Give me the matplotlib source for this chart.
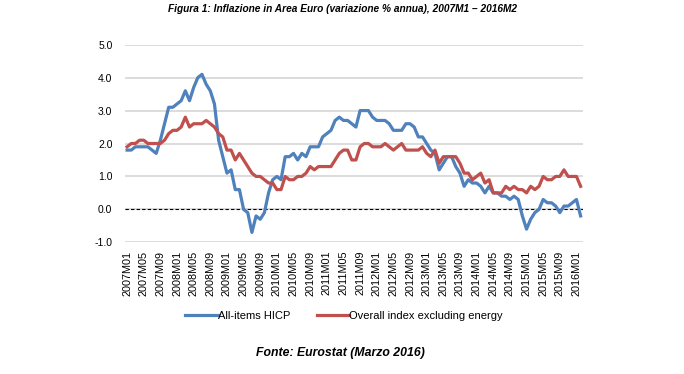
import matplotlib
matplotlib.use('Agg')
import matplotlib.pyplot as plt

plt.rcParams['font.family'] = ['Liberation Sans', 'DejaVu Sans']

months = [f"{y}M{m:02d}" for y in range(2007, 2017) for m in range(1, 13)][:110]

hicp = [1.8, 1.8, 1.9, 1.9, 1.9, 1.9, 1.8, 1.7, 2.1, 2.6, 3.1, 3.1,
        3.2, 3.3, 3.6, 3.3, 3.7, 4.0, 4.1, 3.8, 3.6, 3.2, 2.1, 1.6,
        1.1, 1.2, 0.6, 0.6, 0.0, -0.1, -0.7, -0.2, -0.3, -0.1, 0.5, 0.9,
        1.0, 0.9, 1.6, 1.6, 1.7, 1.5, 1.7, 1.6, 1.9, 1.9, 1.9, 2.2,
        2.3, 2.4, 2.7, 2.8, 2.7, 2.7, 2.6, 2.5, 3.0, 3.0, 3.0, 2.8,
        2.7, 2.7, 2.7, 2.6, 2.4, 2.4, 2.4, 2.6, 2.6, 2.5, 2.2, 2.2,
        2.0, 1.8, 1.7, 1.2, 1.4, 1.6, 1.6, 1.3, 1.1, 0.7, 0.9, 0.8,
        0.8, 0.7, 0.5, 0.7, 0.5, 0.5, 0.4, 0.4, 0.3, 0.4, 0.3, -0.2,
        -0.6, -0.3, -0.1, 0.0, 0.3, 0.2, 0.2, 0.1, -0.1, 0.1, 0.1, 0.2,
        0.3, -0.2]

ex_energy = [1.9, 2.0, 2.0, 2.1, 2.1, 2.0, 2.0, 2.0, 2.0, 2.1, 2.3, 2.4,
             2.4, 2.5, 2.8, 2.5, 2.6, 2.6, 2.6, 2.7, 2.6, 2.5, 2.3, 2.2,
             1.8, 1.8, 1.5, 1.7, 1.5, 1.3, 1.1, 1.0, 1.0, 0.9, 0.8, 0.8,
             0.6, 0.6, 1.0, 0.9, 0.9, 1.0, 1.0, 1.1, 1.3, 1.2, 1.3, 1.3,
             1.3, 1.3, 1.5, 1.7, 1.8, 1.8, 1.5, 1.5, 1.9, 2.0, 2.0, 1.9,
             1.9, 1.9, 2.0, 1.9, 1.8, 1.9, 2.0, 1.8, 1.8, 1.8, 1.8, 1.9,
             1.7, 1.6, 1.8, 1.4, 1.6, 1.6, 1.6, 1.6, 1.4, 1.1, 1.1, 0.9,
             1.0, 1.1, 0.8, 0.9, 0.5, 0.5, 0.5, 0.7, 0.6, 0.7, 0.6, 0.6,
             0.5, 0.7, 0.6, 0.7, 1.0, 0.9, 0.9, 1.0, 1.0, 1.2, 1.0, 1.0,
             1.0, 0.7]

yticks = [-1.0, 0.0, 1.0, 2.0, 3.0, 4.0, 5.0]

W, H = 684, 374
fig = plt.figure(figsize=(W / 100, H / 100), dpi=100)
ax = fig.add_axes([125 / W, 1 - 242.3 / H, (582.7 - 125) / W, (242.3 - 44.7) / H])

x = list(range(len(months)))
ax.plot(x, hicp, color='#4F81BD', lw=2.3, label='All-items HICP',
        solid_joinstyle='round', zorder=3)
ax.plot(x, ex_energy, color='#C0504D', lw=2.3, label='Overall index excluding energy',
        solid_joinstyle='round', zorder=4)

ax.set_ylim(-1, 5)
ax.set_xlim(-0.5, len(months) - 0.5)
ax.set_yticks(yticks)
ax.set_yticklabels([f"{v:.1f}" for v in yticks], fontsize=7.5)
ax.grid(axis='y', color='#D9D9D9', lw=1.3, zorder=0)
ax.axhline(0, color='black', lw=0.8, ls=(0, (3, 2)), zorder=2)
for s in ax.spines.values():
    s.set_visible(False)
ax.tick_params(axis='y', length=0, pad=9)
ax.tick_params(axis='x', length=0, pad=6)
ax.set_xticks(x[::4])
ax.set_xticklabels(months[::4], rotation=90, fontsize=7.8, va='top', ha='center')

fig.text(0.5, 1 - 9 / H, "Figura 1: Inflazione in Area Euro (variazione % annua), 2007M1 – 2016M2",
         ha='center', va='center', fontsize=7.3, fontweight='bold', style='italic')
fig.text(340 / W, 1 - 353 / H, "Fonte: Eurostat (Marzo 2016)",
         ha='center', va='center', fontsize=8.8, fontweight='bold', style='italic')

fig.legend(loc='center', bbox_to_anchor=(344 / W, 1 - 316 / H), ncol=2, frameon=False,
           fontsize=8, handlelength=2.9, handletextpad=0.0, columnspacing=2.4)

fig.savefig('out.png', dpi=100)
